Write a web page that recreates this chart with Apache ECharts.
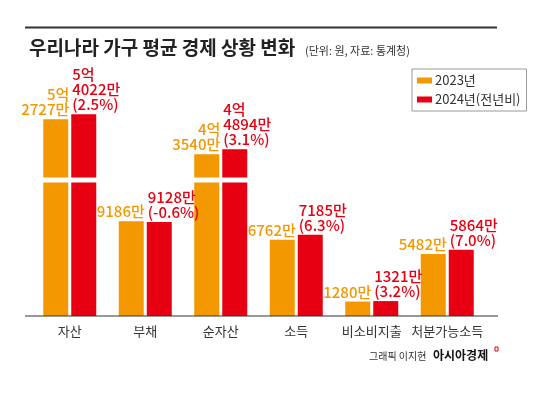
<!DOCTYPE html>
<html><head><meta charset="utf-8">
<script src="https://cdn.jsdelivr.net/npm/echarts@6/dist/echarts.min.js"></script>
<style>html,body{margin:0;padding:0;background:#fff}#c{width:550px;height:393px}</style>
</head><body><div id="c"></div>
<script>
// values in 만원
var categories = ['자산', '부채', '순자산', '소득', '비소비지출', '처분가능소득'];
var values2023 = [52727, 9186, 43540, 6762, 1280, 5482];
var values2024 = [54022, 9128, 44894, 7185, 1321, 5864];
var change2024 = ['2.5%', '-0.6%', '3.1%', '6.3%', '3.2%', '7.0%'];
var seriesNames = ['2023년', '2024년(전년비)'];

var ORANGE = '#f39800', RED = '#e60012';
var FONT = "'Noto Sans CJK KR',sans-serif";

function fmt(v) {
  var eok = Math.floor(v / 10000), man = v % 10000;
  return eok > 0 ? eok + '억\n' + man + '만' : man + '만';
}

var chart = echarts.init(document.getElementById('c'), null, {renderer: 'canvas'});
chart.setOption({
  backgroundColor: '#fff',
  animation: false,
  title: [{
    text: '우리나라 가구 평균 경제 상황 변화',
    left: 24, top: 33,
    textStyle: {fontFamily: FONT, fontSize: 19, fontWeight: 'bold', color: '#222'}
  }, {
    text: '(단위: 원, 자료: 통계청)',
    left: 300, top: 40,
    textStyle: {fontFamily: FONT, fontSize: 11, fontWeight: 'normal', color: '#333'}
  }],
  legend: {
    orient: 'vertical', left: 412, top: 69,
    itemWidth: 15, itemHeight: 6, itemGap: 6,
    padding: [5, 6, 5, 5],
    borderColor: '#999', borderWidth: 1,
    icon: 'rect',
    textStyle: {fontFamily: FONT, fontSize: 13, color: '#333', padding: [0, 0, 0, -2]},
    data: seriesNames
  },
  grid: {left: 32, right: 65, top: 80, bottom: 77},
  xAxis: {
    type: 'category', data: categories,
    axisLine: {show: false}, axisTick: {show: false},
    axisLabel: {interval: 0, fontFamily: FONT, fontSize: 13, color: '#333', margin: 9}
  },
  yAxis: {
    type: 'value', min: 0, max: 57044,
    axisLine: {show: false}, axisTick: {show: false}, axisLabel: {show: false},
    splitLine: {show: false},
    breaks: [
      {start: 7500, end: 8300, gap: 0},
      {start: 12622, end: 41495, gap: 450},
      {start: 43800, end: 44710, gap: 0},
      {start: 45500, end: 50666, gap: 0},
      {start: 53000, end: 53850, gap: 0}
    ],
    breakArea: {
      show: true,
      zigzagAmplitude: 0,
      itemStyle: {color: '#fff', borderWidth: 0, opacity: 1}
    },
    breakLabelLayout: {moveOverlap: false}
  },
  graphic: [
    {type: 'line', shape: {x1: 25, y1: 27.5, x2: 497, y2: 27.5}, style: {stroke: '#333', lineWidth: 2}},
    {type: 'line', shape: {x1: 25, y1: 316, x2: 498, y2: 316}, style: {stroke: '#333', lineWidth: 1.2}, z: 10},
    {type: 'text', left: 369, top: 351, style: {text: '그래픽 이지현', font: "10px 'Noto Sans CJK KR'", fill: '#333'}},
    {type: 'text', left: 433, top: 349, style: {text: '아시아경제', font: "bold 12px 'Noto Sans CJK KR'", fill: '#111'}},
    {type: 'rect', shape: {x: 495, y: 347, width: 3, height: 4}, style: {fill: 'none', stroke: RED, lineWidth: 1}}
  ],
  series: [
    {
      name: seriesNames[0], type: 'bar', data: values2023,
      barWidth: 25, barGap: '12%',
      itemStyle: {color: ORANGE},
      label: {
        show: true, position: ['100%', 0], align: 'right', verticalAlign: 'bottom', offset: [1, -2],
        fontFamily: FONT, fontSize: 15, fontWeight: 500, lineHeight: 15, color: ORANGE,
        formatter: function (p) { return fmt(p.value); }
      }
    },
    {
      name: seriesNames[1], type: 'bar', data: values2024,
      barWidth: 25,
      itemStyle: {color: RED},
      label: {
        show: true, position: [0, 0], align: 'left', verticalAlign: 'bottom', offset: [1, -2],
        fontFamily: FONT, fontSize: 15, fontWeight: 500, lineHeight: 15, color: RED,
        formatter: function (p) { return fmt(p.value) + '\n(' + change2024[p.dataIndex] + ')'; }
      }
    }
  ]
});
</script></body></html>
